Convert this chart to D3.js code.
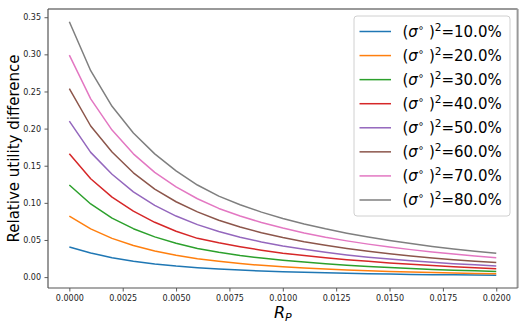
<!DOCTYPE html>
<html>
<head>
<meta charset="utf-8">
<script src="https://cdn.jsdelivr.net/npm/d3@7"></script>
<style>
  html, body { margin: 0; padding: 0; background: #fff; }
  svg { display: block; font-family: "DejaVu Sans", sans-serif; }
</style>
</head>
<body>
<svg id="chart" width="527" height="327"></svg>
<script>
// ---- data ----
const rp = [0, 0.001, 0.002, 0.003, 0.004, 0.005, 0.006, 0.007, 0.008, 0.009, 0.010,
            0.011, 0.012, 0.013, 0.014, 0.015, 0.016, 0.017, 0.018, 0.019, 0.020];
const sigmaLabels = ["10.0%", "20.0%", "30.0%", "40.0%", "50.0%", "60.0%", "70.0%", "80.0%"];
const s10 = [0.0405, 0.0325, 0.0262, 0.0214, 0.0177, 0.0148, 0.0126, 0.0108, 0.0094, 0.0082, 0.0072,
             0.0064, 0.0057, 0.0051, 0.0045, 0.0041, 0.0036, 0.0033, 0.0030, 0.0027, 0.0024];
const s20 = [0.082, 0.065, 0.0522, 0.0425, 0.0352, 0.0294, 0.0248, 0.0212, 0.0182, 0.0158, 0.0138,
             0.0122, 0.0108, 0.0096, 0.0085, 0.0076, 0.0068, 0.0061, 0.0055, 0.0049, 0.0044];
const s30 = [0.124, 0.0985, 0.0795, 0.0652, 0.0542, 0.0455, 0.0386, 0.0334, 0.0291, 0.0256, 0.0227,
             0.0202, 0.0180, 0.0161, 0.0144, 0.0129, 0.0116, 0.0104, 0.0093, 0.0084, 0.0075];
const s40 = [0.166, 0.1325, 0.1078, 0.0888, 0.0738, 0.0618, 0.0522, 0.0462, 0.0410, 0.0363, 0.0322,
             0.0290, 0.0261, 0.0235, 0.0212, 0.0191, 0.0172, 0.0155, 0.0140, 0.0126, 0.0113];
const s50 = [0.210, 0.168, 0.1385, 0.1148, 0.0965, 0.0822, 0.0707, 0.0613, 0.0537, 0.0474, 0.0420,
             0.0374, 0.0334, 0.0299, 0.0268, 0.0243, 0.0220, 0.0199, 0.0181, 0.0165, 0.0150];
const s60 = [0.254, 0.2035, 0.1685, 0.1405, 0.1185, 0.1015, 0.0878, 0.0765, 0.0675, 0.0598, 0.0533,
             0.0477, 0.0428, 0.0385, 0.0347, 0.0314, 0.0284, 0.0258, 0.0235, 0.0214, 0.0196];
const s70 = [0.299, 0.240, 0.198, 0.166, 0.141, 0.1215, 0.1055, 0.0925, 0.0823, 0.0735, 0.0660,
             0.0595, 0.0538, 0.0488, 0.0444, 0.0405, 0.0370, 0.0338, 0.0310, 0.0284, 0.0260];
const s80 = [0.344, 0.278, 0.230, 0.194, 0.166, 0.143, 0.124, 0.109, 0.0975, 0.0875, 0.0790,
             0.0715, 0.0650, 0.0592, 0.0540, 0.0493, 0.0451, 0.0413, 0.0379, 0.0348, 0.0320];
const seriesValues = [s10, s20, s30, s40, s50, s60, s70, s80];
const colors = ["#1f77b4", "#ff7f0e", "#2ca02c", "#d62728", "#9467bd", "#8c564b", "#e377c2", "#7f7f7f"];
const xTicks = [0, 0.0025, 0.005, 0.0075, 0.01, 0.0125, 0.015, 0.0175, 0.02];
const yTicks = [0, 0.05, 0.10, 0.15, 0.20, 0.25, 0.30, 0.35];

// ---- layout ----
const L = 48, R = 517.6, T = 9, B = 288;
const svg = d3.select("#chart");

const xMin = d3.min(rp), xMax = d3.max(rp), xPad = (xMax - xMin) * 0.05;
const x = d3.scaleLinear().domain([xMin - xPad, xMax + xPad]).range([L, R]);
const allY = seriesValues.flat();
const yMin = d3.min(allY), yMax = d3.max(allY), yPad = (yMax - yMin) * 0.05;
const y = d3.scaleLinear().domain([yMin - yPad, yMax + yPad]).range([B, T]);

// lines
const line = d3.line().x((d, i) => x(rp[i])).y(d => y(d));
const g = svg.append("g");
seriesValues.forEach((vals, k) => {
  g.append("path").datum(vals)
    .attr("d", line)
    .attr("fill", "none")
    .attr("stroke", colors[k])
    .attr("stroke-width", 1.5)
    .attr("stroke-linejoin", "round");
});

// axes
const xAxis = d3.axisBottom(x).tickValues(xTicks).tickFormat(d3.format(".4f")).tickSize(3.5).tickPadding(3.5);
const yAxis = d3.axisLeft(y).tickValues(yTicks).tickFormat(d3.format(".2f")).tickSize(3.5).tickPadding(3.5);
const gx = svg.append("g").attr("transform", `translate(0,${B})`).call(xAxis);
const gy = svg.append("g").attr("transform", `translate(${L},0)`).call(yAxis);
[gx, gy].forEach(a => {
  a.select(".domain").remove();
  a.selectAll(".tick line").attr("stroke", "#333").attr("stroke-width", 0.8);
  a.selectAll(".tick text").attr("fill", "#222").attr("font-size", 8).attr("font-family", "DejaVu Sans");
});

// spines
svg.append("line").attr("x1", L).attr("x2", R).attr("y1", T).attr("y2", T).attr("stroke", "#999").attr("stroke-width", 2);
svg.append("line").attr("x1", R).attr("x2", R).attr("y1", T).attr("y2", B).attr("stroke", "#999").attr("stroke-width", 2);
svg.append("line").attr("x1", L).attr("x2", R).attr("y1", B).attr("y2", B).attr("stroke", "#555").attr("stroke-width", 1.2);
svg.append("line").attr("x1", L).attr("x2", L).attr("y1", T).attr("y2", B).attr("stroke", "#555").attr("stroke-width", 1.2);

// axis labels
svg.append("text")
  .attr("transform", `translate(18.5,${(T + B) / 2}) rotate(-90)`)
  .attr("text-anchor", "middle")
  .attr("font-size", 15)
  .attr("fill", "#000")
  .text("Relative utility difference");

const xl = svg.append("text")
  .attr("x", (L + R) / 2)
  .attr("y", 318)
  .attr("text-anchor", "middle")
  .attr("font-size", 16)
  .attr("fill", "#000");
xl.append("tspan").attr("font-style", "italic").text("R");
xl.append("tspan").attr("font-style", "italic").attr("font-size", 11).attr("dy", 3).text("P");

// legend
const legX = 354, legY = 16, legW = 156, legH = 200;
svg.append("rect").attr("x", legX).attr("y", legY).attr("width", legW).attr("height", legH)
  .attr("rx", 3).attr("fill", "#fff").attr("fill-opacity", 0.85)
  .attr("stroke", "#d0d0d0").attr("stroke-width", 1);

sigmaLabels.forEach((lab, k) => {
  const cy = 31.5 + k * 24.07;
  svg.append("line").attr("x1", 359.5).attr("x2", 391).attr("y1", cy).attr("y2", cy)
    .attr("stroke", colors[k]).attr("stroke-width", 1.5);
  const t = svg.append("text").attr("x", 402.5).attr("y", cy + 5).attr("font-size", 15).attr("fill", "#000");
  t.append("tspan").text("(");
  t.append("tspan").attr("font-style", "italic").text("σ");
  t.append("tspan").attr("font-size", 10).attr("dy", -6).text("∘");
  t.append("tspan").attr("dy", 6).text(" )");
  t.append("tspan").attr("font-size", 10.5).attr("dy", -6).text("2");
  t.append("tspan").attr("dy", 6).text("=" + lab);
});
</script>
</body>
</html>
